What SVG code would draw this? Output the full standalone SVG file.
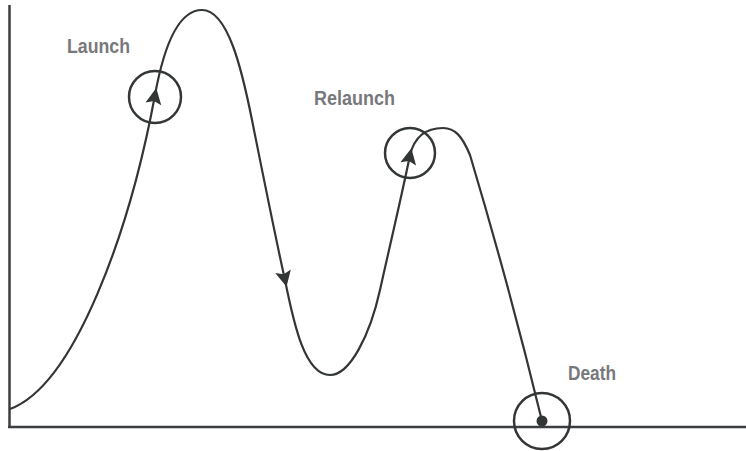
<svg xmlns="http://www.w3.org/2000/svg" width="746" height="451" viewBox="0 0 746 451">
  <style>
    .axis { stroke: #3b3e41; stroke-width: 2.5; fill: none; }
    .curve { stroke: #323634; stroke-width: 2.2; fill: none; }
    .ring { stroke: #323634; stroke-width: 2.5; fill: none; }
    .label { font-family: "Liberation Sans", Arial, sans-serif; font-weight: bold; font-size: 20.5px; fill: #77787b; }
  </style>
  <defs>
    <marker id="arrow" viewBox="0 0 16 18" refX="9" refY="9" markerWidth="16" markerHeight="18" markerUnits="userSpaceOnUse" orient="auto" overflow="visible">
      <path d="M0,1 L16,9 L0,17 L3,9 z" fill="#323634"/>
    </marker>
    <marker id="dot" viewBox="0 0 12 12" refX="6" refY="6" markerWidth="12" markerHeight="12" markerUnits="userSpaceOnUse">
      <circle cx="6" cy="6" r="5.5" fill="#323634"/>
    </marker>
  </defs>

  <g id="axes">
    <line class="axis" x1="9.5" y1="5" x2="9.5" y2="428"/>
    <line class="axis" x1="8" y1="427" x2="746" y2="427"/>
  </g>

  <g id="connectors">
    <path class="curve" d="M10,409 C75,385 130,230 155,95" marker-end="url(#arrow)"/>
    <path class="curve" d="M155,95 C165,40 180,10 202,10 C228,10 242,70 252,120 C262,170 276,240 285,280" marker-end="url(#arrow)"/>
    <path class="curve" d="M285,280 C294,325 305,375 330,375 C350,375 370,335 380,290 C390,245 403,190 410,155" marker-end="url(#arrow)"/>
    <path class="curve" d="M410,155 C415,135 428,128 443,128 C455,128 462,136 470,155 C490,222 520,330 542,421" marker-end="url(#dot)"/>
  </g>

  <g id="launch">
    <circle class="ring" cx="155" cy="97" r="26"/>
    <text class="label" x="67" y="53" textLength="63" lengthAdjust="spacingAndGlyphs">Launch</text>
  </g>
  <g id="relaunch">
    <circle class="ring" cx="410" cy="153" r="25"/>
    <text class="label" x="314" y="105" textLength="81" lengthAdjust="spacingAndGlyphs">Relaunch</text>
  </g>
  <g id="death">
    <circle class="ring" cx="542" cy="421" r="28"/>
    <text class="label" x="568" y="380" textLength="48" lengthAdjust="spacingAndGlyphs">Death</text>
  </g>
</svg>
